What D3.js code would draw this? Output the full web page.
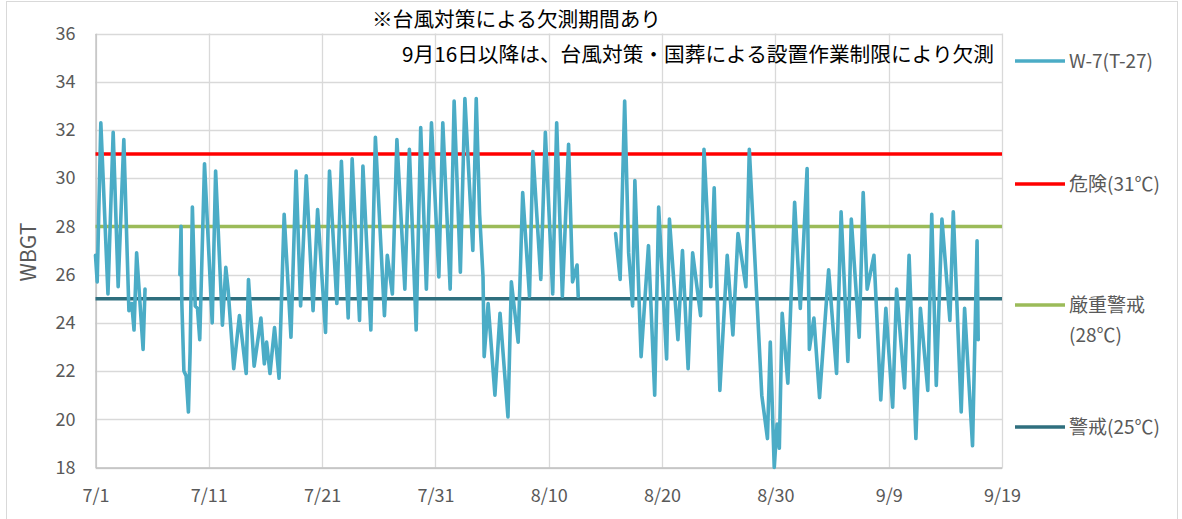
<!DOCTYPE html>
<html>
<head>
<meta charset="utf-8">
<title>WBGT W-7(T-27)</title>
<script src="https://d3js.org/d3.v7.min.js"></script>
<style>
  body { margin: 0; background: #fff; }
  svg text { font-family: "Noto Sans CJK JP", "Open Sans", sans-serif; }
</style>
</head>
<body>
<div id="chart"></div>
<script>
// elapsed days from 7/1 0:00 and WBGT read at each daily peak / trough (null = missing)
const elapsedDays = [
  0.0, 0.15, 0.47, 1.1, 1.56, 2.0, 2.5, 2.8, 2.95, 3.2, 3.4, 3.63, 4.2, 4.37,
  5.5,
  7.45, 7.55, 7.62, 7.8, 8.0, 8.2, 8.35, 8.55, 8.8, 9.0, 9.2, 9.62, 10.3, 10.6, 11.2, 11.5, 11.7,
  12.2, 12.7, 13.3, 13.5, 14.0, 14.6, 14.9, 15.1, 15.4, 15.8, 16.2, 16.65, 17.25, 17.7, 18.1,
  18.6, 19.2, 19.6, 20.3, 20.65, 21.3, 21.7, 22.3, 22.65, 23.3, 23.6, 24.3, 24.7, 25.5, 25.75,
  26.2, 26.6, 27.3, 27.7, 28.3, 28.7, 29.2, 29.65, 30.3, 30.65, 31.3, 31.65, 32.2, 32.6, 33.3,
  33.6, 33.9, 34.2, 34.3, 34.65, 35.25, 35.7, 36.4, 36.7, 37.3, 37.7, 38.3, 38.6, 39.3, 39.7,
  40.35, 40.7, 41.2, 41.75, 42.1, 42.5, 42.6,
  44.0,
  45.9, 46.3, 46.7, 47.05, 47.4, 47.6, 48.15, 48.8, 49.35, 49.7, 50.4, 50.65, 51.4, 51.8, 52.3,
  52.7, 53.4, 53.7, 54.3, 54.6, 55.1, 55.75, 56.25, 56.7, 57.4, 57.7, 58.4, 58.8, 59.3, 59.55,
  59.9, 60.15, 60.35, 60.6, 61.1, 61.7, 62.2, 62.8, 63.0, 63.4, 63.9, 64.7, 65.4, 65.8, 66.4,
  66.7, 67.4, 67.75, 68.1, 68.7, 69.3, 69.75, 70.35, 70.7, 71.4, 71.8, 72.4, 72.8, 73.45, 73.8,
  74.2, 74.7, 75.4, 75.7, 76.4, 76.7, 77.4, 77.8, 77.9
];
const wbgt = [
  26.8, 25.7, 32.3, 25.2, 31.9, 25.5, 31.6, 26.8, 24.5, 24.8, 23.7, 26.9, 22.9, 25.4,
  null,
  26.0, 28.0, 24.8, 22.0, 21.8, 20.3, 22.8, 28.8, 24.7, 24.6, 23.3, 30.6, 24.0, 30.3, 23.9, 26.3, 25.4,
  22.1, 24.3, 21.9, 25.8, 22.2, 24.2, 22.3, 23.2, 21.9, 23.8, 21.7, 28.5, 23.4, 30.3, 24.7,
  30.1, 24.5, 28.7, 23.6, 30.3, 24.8, 30.7, 24.2, 30.8, 24.1, 30.5, 23.7, 31.7, 24.3, 26.8,
  25.2, 31.6, 25.4, 31.2, 23.7, 32.1, 25.4, 32.3, 25.9, 32.3, 25.4, 33.2, 26.1, 33.3, 27.0,
  33.3, 28.5, 25.9, 22.6, 24.8, 21.0, 24.4, 20.1, 25.7, 23.2, 29.4, 25.1, 31.1, 25.8, 31.9,
  25.2, 32.3, 25.1, 31.4, 25.7, 26.4, 25.1,
  null,
  27.7, 25.8, 33.2, 26.9, 24.7, 29.9, 22.6, 27.2, 21.0, 28.8, 22.5, 28.3, 23.3, 27.0, 22.1,
  26.9, 24.3, 31.2, 25.5, 29.6, 21.2, 26.8, 23.5, 27.7, 25.5, 31.2, 24.7, 21.0, 19.2, 23.2,
  18.0, 19.8, 18.8, 24.4, 21.5, 29.0, 24.6, 30.4, 22.9, 24.2, 20.9, 26.2, 21.9, 28.6, 22.4,
  28.3, 23.4, 29.4, 25.4, 26.8, 20.8, 24.6, 20.5, 25.4, 21.3, 26.8, 19.2, 24.6, 21.2, 28.5,
  21.4, 28.3, 24.1, 28.6, 20.3, 24.6, 18.9, 27.4, 23.3
];

const yTicks = [18, 20, 22, 24, 26, 28, 30, 32, 34, 36];
const xTickDays = [0, 10, 20, 30, 40, 50, 60, 70, 80];

const thresholdNames = ["危険(31℃)", "厳重警戒", "警戒(25℃)"];
const thresholdValues = [31, 28, 25];
const seriesName = "W-7(T-27)";

const noteLines = ["※台風対策による欠測期間あり",
                   "9月16日以降は、台風対策・国葬による設置作業制限により欠測"];

const W = 1182, H = 519;
const start = new Date(2022, 6, 1);
const toDate = d => new Date(start.getTime() + d * 864e5);

const svg = d3.select("#chart").append("svg")
  .attr("width", W).attr("height", H);

// chart area border
svg.append("rect")
  .attr("x", 6.5).attr("y", 1.5).attr("width", 1171).attr("height", 540)
  .attr("fill", "none").attr("stroke", "#d9d9d9");

const plot = { left: 95.5, right: 1002, top: 33.5, bottom: 467.5 };

const x = d3.scaleTime()
  .domain([toDate(0), toDate(80)])
  .range([plot.left, plot.right]);
const y = d3.scaleLinear()
  .domain([18, 36])
  .range([plot.bottom, plot.top]);

// gridlines
svg.append("g")
  .selectAll("line").data(yTicks).enter().append("line")
  .attr("x1", plot.left).attr("x2", plot.right)
  .attr("y1", d => Math.round(y(d)) + 0.5).attr("y2", d => Math.round(y(d)) + 0.5)
  .attr("stroke", "#d9d9d9").attr("stroke-width", 1.3);
svg.append("g")
  .selectAll("line").data(xTickDays).enter().append("line")
  .attr("x1", d => Math.round(x(toDate(d))) + 0.5).attr("x2", d => Math.round(x(toDate(d))) + 0.5)
  .attr("y1", plot.top).attr("y2", plot.bottom)
  .attr("stroke", "#d9d9d9").attr("stroke-width", 1.3);

// axes
const yAxis = d3.axisLeft(y).tickValues(yTicks).tickSize(0).tickPadding(20);
svg.append("g")
  .attr("transform", "translate(" + plot.left + ",0)")
  .call(yAxis)
  .call(g => g.select(".domain").attr("stroke", "#bfbfbf").attr("stroke-width", 1.3))
  .selectAll("text")
  .attr("fill", "#595959").style("font-size", "18px");

const xAxis = d3.axisBottom(x)
  .tickValues(xTickDays.map(toDate))
  .tickFormat(d3.timeFormat("%-m/%-d"))
  .tickSize(0).tickPadding(22);
svg.append("g")
  .attr("transform", "translate(0," + plot.bottom + ")")
  .call(xAxis)
  .call(g => g.select(".domain").attr("stroke", "#bfbfbf").attr("stroke-width", 1.3))
  .selectAll("text")
  .attr("fill", "#595959").style("font-size", "18px");

svg.append("text")
  .attr("transform", "translate(36,252) rotate(-90)")
  .attr("text-anchor", "middle")
  .attr("fill", "#595959")
  .style("font-size", "21px")
  .text("WBGT");

// threshold lines
const thresholdColors = ["#ff0000", "#9bbb59", "#2f6f7e"];
svg.append("g")
  .selectAll("line").data(thresholdValues).enter().append("line")
  .attr("x1", plot.left).attr("x2", plot.right)
  .attr("y1", d => y(d)).attr("y2", d => y(d))
  .attr("stroke", (d, i) => thresholdColors[i])
  .attr("stroke-width", 3.5);

// series
const points = elapsedDays.map((d, i) => ({ t: toDate(d), v: wbgt[i] }));
const line = d3.line()
  .defined(d => d.v !== null)
  .x(d => x(d.t))
  .y(d => y(d.v));
svg.append("path")
  .datum(points)
  .attr("fill", "none")
  .attr("stroke", "#4bacc6")
  .attr("stroke-width", 3.6)
  .attr("stroke-linejoin", "round")
  .attr("stroke-linecap", "round")
  .attr("d", line);

// notes
svg.append("text")
  .attr("x", 372).attr("y", 27)
  .attr("fill", "#000")
  .style("font-size", "20.7px")
  .text(noteLines[0]);
svg.append("text")
  .attr("x", 994).attr("y", 62)
  .attr("text-anchor", "end")
  .attr("fill", "#000")
  .style("font-size", "20.7px")
  .text(noteLines[1]);

// legend
const legendItems = [
  { name: [seriesName], color: "#4bacc6", y: 61 },
  { name: [thresholdNames[0]], color: thresholdColors[0], y: 184 },
  { name: [thresholdNames[1], "(28℃)"], color: thresholdColors[1], y: 305 },
  { name: [thresholdNames[2]], color: thresholdColors[2], y: 427 }
];
const lg = svg.append("g").selectAll("g").data(legendItems).enter().append("g")
  .attr("transform", d => "translate(1015," + d.y + ")");
lg.append("line")
  .attr("x1", 0).attr("x2", 50)
  .attr("stroke", d => d.color).attr("stroke-width", 3.5);
lg.each(function (d) {
  const t = d3.select(this).append("text")
    .attr("x", 54).attr("y", 7)
    .attr("fill", "#595959")
    .style("font-size", "19px");
  d.name.forEach((s, i) => {
    t.append("tspan").attr("x", 54).attr("dy", i ? 30 : 0).text(s);
  });
});
</script>
</body>
</html>
